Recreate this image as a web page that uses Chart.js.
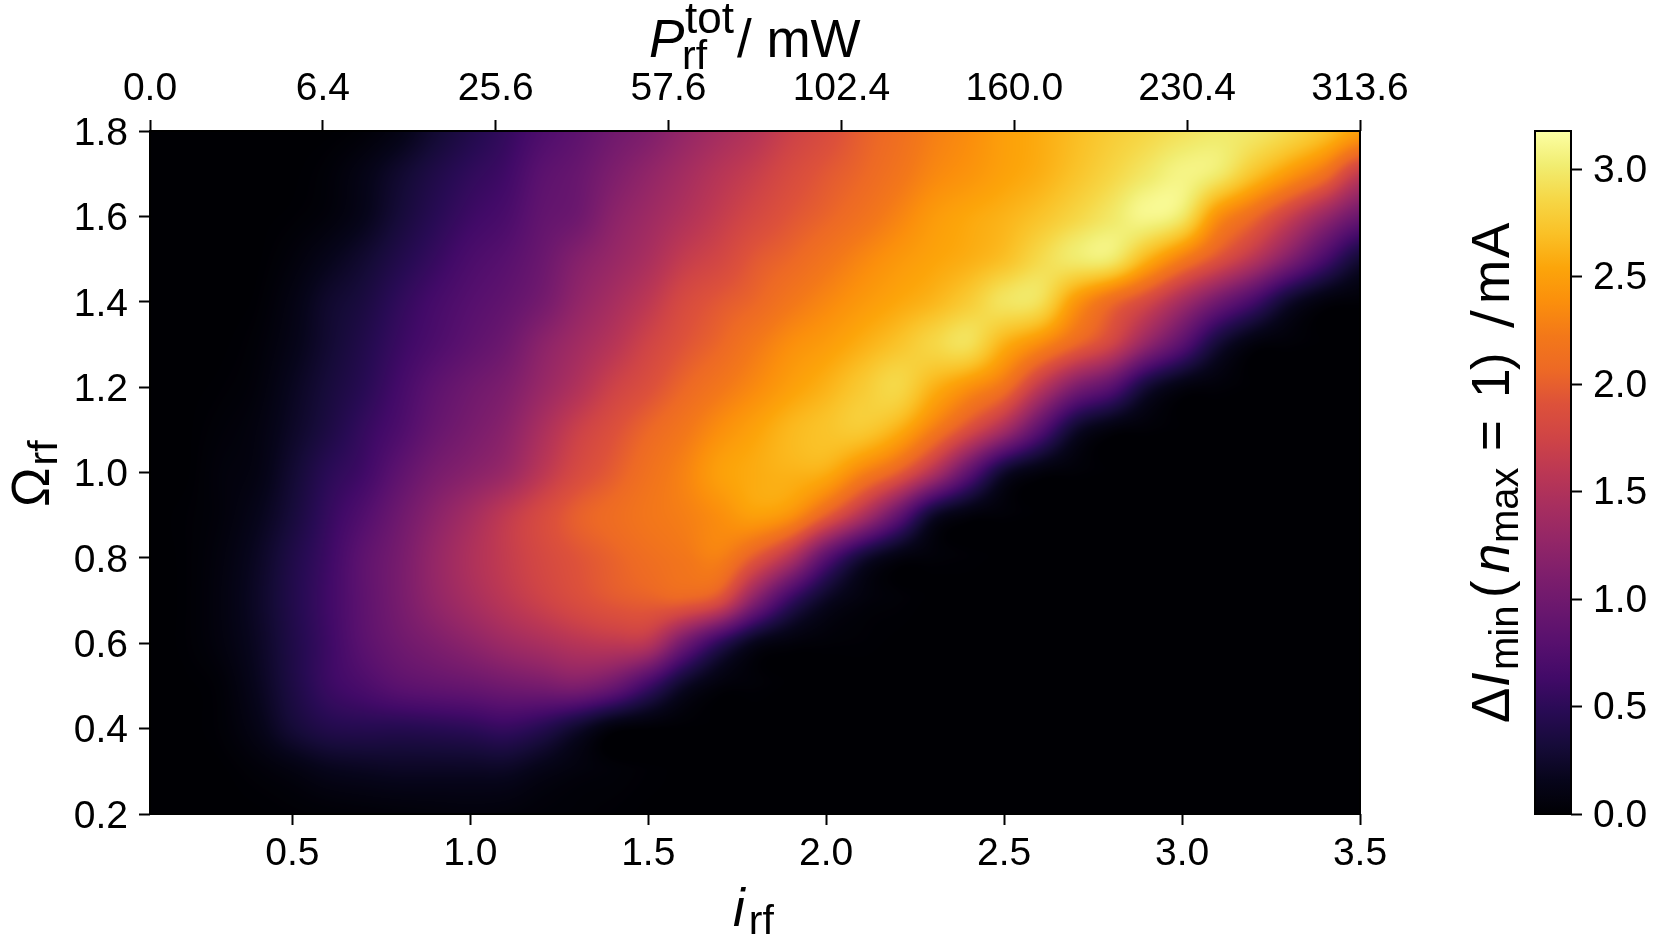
<!DOCTYPE html>
<html>
<head>
<meta charset="utf-8">
<style>
html,body{margin:0;padding:0;background:#fff;width:1661px;height:949px;overflow:hidden}
canvas{position:absolute;top:0}
#main{left:0}
#bar{left:1440px}
</style>
<script src="https://cdn.jsdelivr.net/npm/chart.js@4/dist/chart.umd.min.js"></script>
</head>
<body>
<canvas id="main" width="1661" height="949"></canvas>
<canvas id="bar" width="221" height="949"></canvas>
<script>
const iValues = [0.1,0.2,0.3,0.4,0.5,0.6,0.7,0.8,0.9,1.0,1.1,1.2,1.3,1.4,1.5,1.6,1.7,1.8,1.9,2.0,2.1,2.2,2.3,2.4,2.5,2.6,2.7,2.8,2.9,3.0,3.1,3.2,3.3,3.4,3.5];
const omegaValues = [1.8,1.7,1.6,1.5,1.4,1.3,1.2,1.1,1.0,0.9,0.8,0.7,0.6,0.5,0.4,0.3,0.2];

const row18 = [0,0,0,0,0,0,.03,.12,.28,.42, .55,.72,.85,1.0,1.12,1.28,1.42,1.55,1.72,1.85, 2.0,2.12,2.27,2.37,2.5,2.58,2.68,2.78,2.86,2.94, 3.0,2.98,2.88,2.72,2.5];
const row17 = [0,0,0,0,0,.03,.12,.26,.4,.52, .62,.82,.93,1.1,1.25,1.4,1.55,1.68,1.83,1.95, 2.05,2.18,2.33,2.42,2.52,2.6,2.72,2.85,2.98,3.08, 3.0,2.72,2.45,2.15,1.65];
const row16 = [0,0,0,0,.01,.05,.15,.32,.47,.6, .7,.88,.98,1.2,1.35,1.5,1.65,1.8,1.93,2.03, 2.15,2.3,2.46,2.55,2.62,2.72,2.85,2.98,3.1,2.98, 2.4,2.08,1.7,1.3,.95];
const row15 = [0,0,0,0,.05,.15,.27,.42,.56,.7, .8,.95,1.15,1.3,1.45,1.65,1.78,1.95,2.05,2.18, 2.32,2.44,2.53,2.6,2.7,2.88,3.0,3.0,2.62,2.25, 1.9,1.55,1.12,.68,.3];
const row14 = [0,0,0,.01,.1,.25,.36,.52,.66,.78, .88,1.03,1.25,1.42,1.6,1.82,1.95,2.05,2.2,2.33, 2.45,2.55,2.64,2.78,2.95,2.92,2.45,2.1,1.8,1.4, 1.0,.65,.25,.06,.02];
const row13 = [0,0,0,.03,.13,.28,.42,.58,.72,.85, .98,1.2,1.38,1.55,1.75,1.92,2.05,2.22,2.38,2.48, 2.6,2.72,2.85,2.92,2.6,2.35,2.05,1.75,1.25,.8, .3,.06,.02,0,0];
const row12 = [0,0,.01,.05,.18,.33,.47,.65,.84,.98, 1.1,1.3,1.5,1.72,1.88,2.05,2.2,2.35,2.5,2.62, 2.76,2.86,2.62,2.4,2.15,1.6,1.1,.8,.3,.08, .03,0,0,0,0];
const row11 = [0,0,.03,.08,.22,.38,.55,.72,.92,1.06, 1.2,1.45,1.7,1.88,2.05,2.2,2.38,2.52,2.65,2.72, 2.76,2.6,2.25,1.85,1.4,.8,.25,.06,.02,0, 0,0,0,0,0];
const row10 = [0,0,.05,.1,.28,.48,.62,.85,1.05,1.18, 1.32,1.58,1.82,1.98,2.15,2.3,2.5,2.58,2.62,2.58, 2.3,2.0,1.5,.85,.25,.06,.02,0,0,0, 0,0,0,0,0];
const row09 = [0,.01,.05,.15,.33,.55,.75,.98,1.2,1.4, 1.62,1.82,2.0,2.1,2.2,2.27,2.38,2.5,2.4,2.0, 1.5,.9,.25,.06,.02,0,0,0,0,0, 0,0,0,0,0];
const row08 = [0,.01,.07,.2,.4,.6,.85,1.05,1.28,1.48, 1.65,1.8,1.92,2.02,2.12,2.2,2.27,1.95,1.5,.8, .3,.08,.03,.01,0,0,0,0,0,0, 0,0,0,0,0];
const row07 = [0,.01,.08,.22,.42,.62,.85,1.05,1.25,1.42, 1.58,1.72,1.85,1.95,2.0,2.02,1.85,1.15,.55,.2, .06,.02,0,0,0,0,0,0,0,0, 0,0,0,0,0];
const row06 = [0,.01,.07,.2,.4,.6,.82,.98,1.1,1.22, 1.35,1.45,1.55,1.6,1.55,1.0,.5,.15,.05,.02, .01,0,0,0,0,0,0,0,0,0, 0,0,0,0,0];
const row05 = [0,0,.03,.17,.38,.58,.7,.82,.88,.93, 1.0,1.05,1.1,.95,.6,.22,.05,.02,0,0, 0,0,0,0,0,0,0,0,0,0, 0,0,0,0,0];
const row04 = [0,0,.02,.12,.3,.42,.45,.45,.47,.5, .55,.45,.25,.05,.01,0,0,0,0,0, 0,0,0,0,0,0,0,0,0,0, 0,0,0,0,0];
const row03 = [0,0,0,.03,.08,.15,.18,.2,.2,.2, .2,.12,.06,.03,.01,0,0,0,0,0, 0,0,0,0,0,0,0,0,0,0, 0,0,0,0,0];
const row02 = [0,0,0,0,.01,.02,.03,.04,.05,.06, .05,.03,.02,.01,0,0,0,0,0,0, 0,0,0,0,0,0,0,0,0,0, 0,0,0,0,0];
const rows = [row18,row17,row16,row15,row14,row13,row12,row11,row10,row09,row08,row07,row06,row05,row04,row03,row02];

const xTickValues = [0.5,1.0,1.5,2.0,2.5,3.0,3.5];
const yTickValues = [0.2,0.4,0.6,0.8,1.0,1.2,1.4,1.6,1.8];
const topTickLabels = ["0.0","6.4","25.6","57.6","102.4","160.0","230.4","313.6"];
const barTickValues = [0,0.5,1.0,1.5,2.0,2.5,3.0];
const valueMax = 3.178;

const infernoStops = [
 [0,0,4],[7,5,27],[22,11,57],[40,11,84],[66,10,104],[87,16,110],[106,23,110],[126,30,108],[147,38,103],
 [167,46,95],[187,55,84],[207,68,70],[221,81,58],[237,105,37],[243,120,25],[251,143,12],[252,165,10],
 [250,193,39],[246,215,70],[241,237,113],[252,255,164]
];
function infernoAt(t){
  t=Math.max(0,Math.min(1,t))*(infernoStops.length-1);
  const k=Math.min(infernoStops.length-2,Math.floor(t)),f=t-k,a=infernoStops[k],b=infernoStops[k+1];
  return [a[0]+(b[0]-a[0])*f,a[1]+(b[1]-a[1])*f,a[2]+(b[2]-a[2])*f];
}
function cubic(a,b,c,d,t){
  return b+0.5*t*(c-a+t*(2*a-5*b+4*c-d+t*(3*(b-c)+d-a)));
}
function sampleGrid(col,row){
  const nc=iValues.length,nr=omegaValues.length;
  const c=Math.max(0,Math.min(nc-1.0001,col)),r=Math.max(0,Math.min(nr-1.0001,row));
  const c0=Math.floor(c),r0=Math.floor(r),tc=c-c0,tr=r-r0,v=[];
  for(let m=-1;m<=2;m++){
    const R=rows[Math.max(0,Math.min(nr-1,r0+m))];
    v.push(cubic(R[Math.max(0,c0-1)],R[c0],R[c0+1],R[Math.min(nc-1,c0+2)],tc));
  }
  return cubic(v[0],v[1],v[2],v[3],tr);
}

const sansFont='"Liberation Sans", Arial, sans-serif';
function drawRuns(ctx,x,y,angle,runs){
  ctx.save();
  ctx.translate(x,y);
  ctx.rotate(angle);
  ctx.fillStyle='#000';
  ctx.textBaseline='alphabetic';
  ctx.textAlign='left';
  let px=0;
  runs.forEach(r=>{
    ctx.font=r.font;
    const ox=r.x!==undefined?r.x:px;
    ctx.fillText(r.t,ox,r.dy||0);
    if(!r.keep) px=ox+ctx.measureText(r.t).width+(r.gap||0);
  });
  ctx.restore();
}
const F={big:'53px '+sansFont,bigI:'italic 53px '+sansFont,sub:'41px '+sansFont,sub2:'40px '+sansFont,sup:'44px '+sansFont,slash:'53px "DejaVu Sans"'};

const heatPlugin={
  id:'heat',
  beforeDatasetsDraw(chart){
    const {ctx,scales}=chart;
    const pts=chart.getDatasetMeta(0).data;
    const xs=scales.x,ys=scales.y;
    const L=Math.round(pts[0].x),T=Math.round(pts[0].y);
    const last=pts[pts.length-1];
    const W=Math.round(last.x)-L,H=Math.round(last.y)-T;
    const off=document.createElement('canvas');off.width=W;off.height=H;
    const oc=off.getContext('2d'),img=oc.createImageData(W,H);
    const di=iValues[1]-iValues[0],dw=omegaValues[0]-omegaValues[1];
    for(let py=0;py<H;py++){
      const w=ys.getValueForPixel(T+py+0.5),row=(omegaValues[0]-w)/dw;
      for(let px=0;px<W;px++){
        const i=xs.getValueForPixel(L+px+0.5),col=(i-iValues[0])/di;
        const c=infernoAt(sampleGrid(col,row)/valueMax),o=(py*W+px)*4;
        img.data[o]=c[0];img.data[o+1]=c[1];img.data[o+2]=c[2];img.data[o+3]=255;
      }
    }
    oc.putImageData(img,0,0);
    ctx.drawImage(off,L,T);
  },
  afterDraw(chart){
    const {ctx,chartArea:a}=chart;
    ctx.save();ctx.strokeStyle='#000';ctx.lineWidth=2;
    ctx.strokeRect(a.left,a.top,a.right-a.left,a.bottom-a.top);ctx.restore();
    drawRuns(ctx,649,57,0,[
      {t:'P',font:F.bigI,keep:true,x:0},
      {t:'tot',font:F.sup,x:36,dy:-24,keep:true},
      {t:'rf',font:F.sub,x:33,dy:12,keep:true},
      {t:'/ mW',font:F.big,x:88}
    ]);
    drawRuns(ctx,733,926,0,[
      {t:'i',font:F.bigI,gap:4},
      {t:'rf',font:F.sub,dy:8}
    ]);
    drawRuns(ctx,49,507,-Math.PI/2,[
      {t:'Ω',font:F.big,gap:2},
      {t:'rf',font:F.sub,dy:8}
    ]);
  }
};

const heatData=[];
omegaValues.forEach((w,r)=>iValues.forEach((i,c)=>heatData.push({x:i,y:w,v:rows[r][c]})));

function axisGrid(){return {display:true,drawOnChartArea:false,drawTicks:true,tickLength:11,tickWidth:2,tickColor:'#000',color:'#000'};}
const tickFont={family:sansFont,size:39};

new Chart(document.getElementById('main'),{
  type:'scatter',
  data:{datasets:[{label:'ΔImin',data:heatData,pointRadius:0,pointHoverRadius:0,xAxisID:'x',yAxisID:'y'}]},
  plugins:[heatPlugin],
  options:{
    responsive:false,animation:false,devicePixelRatio:1,
    layout:{padding:{left:0,right:301,top:0,bottom:0}},
    plugins:{legend:{display:false},tooltip:{enabled:false},title:{display:false}},
    scales:{
      x:{type:'linear',position:'bottom',min:0.1,max:3.5,
        grid:axisGrid(),border:{display:false},
        afterBuildTicks(s){s.ticks=xTickValues.map(v=>({value:v}));},
        afterFit(s){s.height=135;},
        ticks:{font:tickFont,color:'#000',padding:6,maxRotation:0,autoSkip:false,callback:v=>Number(v).toFixed(1)}},
      xTop:{type:'linear',position:'top',min:0,max:7,
        grid:axisGrid(),border:{display:false},
        afterBuildTicks(s){s.ticks=topTickLabels.map((l,k)=>({value:k}));},
        afterFit(s){s.height=131;},
        ticks:{font:tickFont,color:'#000',padding:7,maxRotation:0,autoSkip:false,callback:(v,k)=>topTickLabels[k]}},
      y:{type:'linear',position:'left',min:0.2,max:1.8,
        grid:axisGrid(),border:{display:false},
        afterBuildTicks(s){s.ticks=yTickValues.map(v=>({value:v}));},
        afterFit(s){s.width=150;},
        ticks:{font:tickFont,color:'#000',padding:11,labelOffset:3,autoSkip:false,callback:v=>Number(v).toFixed(1)}}
    }
  }
});

const barPlugin={
  id:'barFrame',
  afterDraw(chart){
    const {ctx,chartArea:a}=chart;
    ctx.save();ctx.strokeStyle='#000';ctx.lineWidth=2;
    ctx.strokeRect(a.left,a.top,a.right-a.left,a.bottom-a.top);ctx.restore();
    drawRuns(ctx,69,723,-Math.PI/2,[
      {t:'Δ',font:F.big,x:0},
      {t:'I',font:F.bigI,x:36},
      {t:'min',font:F.sub2,x:53,dy:9},
      {t:'(',font:F.big,x:125},
      {t:'n',font:F.bigI,x:150},
      {t:'max',font:F.sub2,x:180,dy:9},
      {t:'=',font:F.big,x:272},
      {t:'1',font:F.big,x:325},
      {t:')',font:F.big,x:353},
      {t:'/',font:F.slash,x:395},
      {t:'m',font:F.big,x:419},
      {t:'A',font:F.big,x:465}
    ]);
  }
};
function barGradient(ctx){
  const chart=ctx.chart,y=chart.scales.y;
  if(!y) return '#000';
  const p0=y.getPixelForValue(0),p1=y.getPixelForValue(valueMax);
  if(!isFinite(p0)||!isFinite(p1)) return '#000';
  const g=chart.ctx.createLinearGradient(0,p0,0,p1);
  infernoStops.forEach((c,k)=>g.addColorStop(k/(infernoStops.length-1),`rgb(${c[0]},${c[1]},${c[2]})`));
  return g;
}
new Chart(document.getElementById('bar'),{
  type:'bar',
  data:{labels:['ΔImin'],datasets:[{data:[[0,valueMax]],backgroundColor:barGradient,borderWidth:0,barPercentage:1,categoryPercentage:1}]},
  plugins:[barPlugin],
  options:{
    responsive:false,animation:false,devicePixelRatio:1,
    layout:{padding:{left:95,right:0,top:131,bottom:135}},
    plugins:{legend:{display:false},tooltip:{enabled:false},title:{display:false}},
    scales:{
      x:{display:false},
      y:{type:'linear',position:'right',min:0,max:valueMax,
        grid:axisGrid(),border:{display:false},
        afterBuildTicks(s){s.ticks=barTickValues.map(v=>({value:v}));},
        afterFit(s){s.width=90;},
        ticks:{font:tickFont,color:'#000',padding:11,labelOffset:2,autoSkip:false,callback:v=>Number(v).toFixed(1)}}
    }
  }
});
</script>
</body>
</html>
